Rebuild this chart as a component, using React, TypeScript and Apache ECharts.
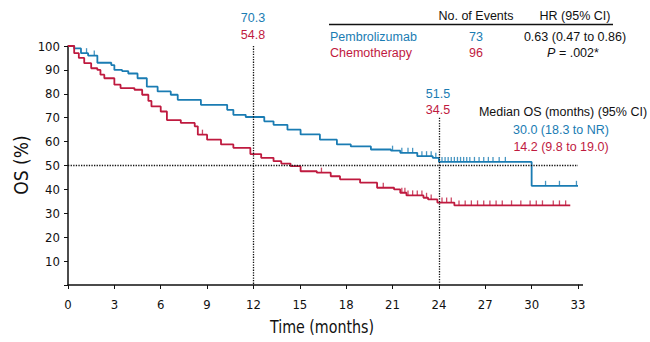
import React, { useEffect, useRef } from "react";
import * as echarts from "echarts";

// Kaplan-Meier step points (time in months, OS %)
const pembroTimes = [0, 0.4, 0.84, 1.3, 1.9, 2.8, 3.0, 3.5, 3.9, 4.5, 5.1, 5.8, 6.65, 7.1, 8.6, 10.3, 10.7, 11.5, 12.7, 13.3, 14.2, 15.05, 16.3, 17.4, 18.3, 19.6, 20.9, 21.5, 22.6, 23.6, 24.0, 30.0, 33.0];
const pembroSurv = [100, 99, 97, 96, 93, 92, 90, 89.5, 88.5, 86.5, 83, 81, 79.6, 77.5, 75.4, 73.3, 71.2, 70.3, 68.5, 67, 65, 63, 60.8, 58.8, 58, 56.7, 56.2, 55.3, 53.9, 53.2, 51.5, 41.5, 41.5];
const chemoTimes = [0, 0.4, 0.7, 1.05, 1.5, 1.9, 2.1, 2.35, 3.0, 3.4, 4.3, 4.8, 5.2, 5.4, 6.0, 6.4, 7.3, 8.2, 8.4, 9.0, 9.9, 10.7, 11.8, 12.5, 13.3, 13.8, 14.4, 15.05, 16.1, 17.0, 17.6, 18.9, 20.0, 21.1, 21.5, 21.9, 23.0, 23.3, 23.9, 25.0, 32.5];
const chemoSurv = [100, 97, 95, 92.8, 90.7, 90, 88, 86.5, 83.8, 82.4, 81.7, 79.6, 77, 74.7, 72.6, 69, 67.8, 66.4, 62.9, 60.8, 58.8, 57.4, 54.8, 53.2, 51.8, 50.8, 49.7, 47.6, 47, 45.5, 44.2, 42.8, 40.7, 40, 38.6, 37.5, 36.5, 35.8, 34.5, 33.3, 33.3];
const pembroCensor = [1.2, 1.7, 21.0, 21.6, 22.0, 22.3, 22.9, 23.2, 23.5, 23.8, 24.2, 24.4, 24.6, 24.8, 25.0, 25.2, 25.4, 25.6, 25.8, 26.0, 26.3, 26.6, 26.9, 27.2, 27.5, 27.9, 28.3, 30.9, 31.8, 32.9];
const chemoCensor = [8.7, 16.4, 20.4, 21.6, 21.8, 22.0, 22.3, 22.6, 22.9, 23.2, 23.5, 24.2, 24.5, 24.8, 25.3, 25.7, 26.1, 26.5, 26.9, 27.3, 27.7, 28.1, 28.7, 29.3, 29.9, 30.3, 30.7, 31.4, 31.8, 32.2];
const landmarkTimes = [12, 24];

const BLUE = "#1a7cb3";
const RED = "#bf1a3f";
const INK = "#111111";
const FONT = '"Liberation Sans", Arial, sans-serif';
const AXFONT = '"Liberation Sans Narrow", "DejaVu Sans Condensed", "Liberation Sans", sans-serif';

function stepAt(times: number[], surv: number[], t: number) {
  let v = surv[0];
  for (let i = 0; i < times.length; i++) if (times[i] <= t) v = surv[i];
  return v;
}

export default function App() {
  const ref = useRef<HTMLDivElement>(null);
  useEffect(() => {
    if (!ref.current) return;
    const chart = echarts.init(ref.current, null, { renderer: "svg" });
    const txt = (text: string, x: number, y: number, fill: string, align = "center", extra: any = {}) => ({
      type: "text",
      x,
      y,
      style: { text, fill, font: `12.5px ${FONT}`, align, verticalAlign: "middle", ...extra },
    });
    chart.setOption({
      animation: false,
      backgroundColor: "#ffffff",
      grid: { left: 68, right: 72, top: 46, bottom: 57, containLabel: false },
      xAxis: {
        type: "value",
        min: 0,
        max: 33,
        interval: 3,
        axisLine: { lineStyle: { color: INK, width: 1.5 } },
        axisTick: { length: 4, lineStyle: { color: INK } },
        axisLabel: { color: INK, fontSize: 13, fontFamily: AXFONT, margin: 13 },
        splitLine: { show: false },
      },
      yAxis: {
        type: "value",
        min: 0,
        max: 100,
        interval: 10,
        axisLine: { show: true, lineStyle: { color: INK, width: 1.5 } },
        axisTick: { show: true, length: 4, lineStyle: { color: INK } },
        axisLabel: {
          color: INK,
          fontSize: 13,
          fontFamily: AXFONT,
          margin: 8,
          formatter: (v: number) => (v === 0 ? "" : String(v)),
        },
        splitLine: { show: false },
      },
      series: [
        {
          name: "Pembrolizumab",
          type: "line",
          step: "end",
          symbol: "none",
          lineStyle: { color: BLUE, width: 1.8 },
          data: pembroTimes.map((t, i) => [t, pembroSurv[i]]),
          z: 3,
          markLine: {
            silent: true,
            symbol: ["none", "none"],
            label: { show: false },
            lineStyle: { color: INK, type: "dotted", width: 1.3 },
            data: [
              [{ coord: [0, 50] }, { coord: [33, 50] }],
              [{ coord: [landmarkTimes[0], 100] }, { coord: [landmarkTimes[0], 0] }],
              [{ coord: [landmarkTimes[1], 70] }, { coord: [landmarkTimes[1], 0] }],
            ],
          },
        },
        {
          name: "Chemotherapy",
          type: "line",
          step: "end",
          symbol: "none",
          lineStyle: { color: RED, width: 1.8 },
          data: chemoTimes.map((t, i) => [t, chemoSurv[i]]),
          z: 3,
        },
        {
          type: "scatter",
          symbol: "rect",
          symbolSize: [1.3, 5],
          symbolOffset: [0, -2.5],
          itemStyle: { color: BLUE },
          data: pembroCensor.map((t) => [t, stepAt(pembroTimes, pembroSurv, t)]),
          z: 4,
        },
        {
          type: "scatter",
          symbol: "rect",
          symbolSize: [1.3, 5],
          symbolOffset: [0, -2.5],
          itemStyle: { color: RED },
          data: chemoCensor.map((t) => [t, stepAt(chemoTimes, chemoSurv, t)]),
          z: 4,
        },
      ],
      graphic: [
        // axis extension past 33 and axis titles
        { type: "line", shape: { x1: 578, y1: 285, x2: 583, y2: 285 }, style: { stroke: INK, lineWidth: 1.5 } },
        {
          type: "text",
          x: 322,
          y: 327,
          scaleX: 0.88,
          style: { text: "Time (months)", fill: INK, font: `18px ${AXFONT}`, align: "center", verticalAlign: "middle" },
        },
        {
          type: "text",
          x: 21,
          y: 165,
          rotation: Math.PI / 2,
          style: { text: "OS (%)", fill: INK, font: `19px ${AXFONT}`, align: "center", verticalAlign: "middle" },
        },
        txt("70.3", 253, 18, BLUE),
        txt("54.8", 253, 35, RED),
        txt("51.5", 438, 94, BLUE),
        txt("34.5", 438, 110, RED),
        txt("No. of Events", 476, 16, INK),
        txt("HR (95% CI)", 575, 16, INK),
        { type: "line", shape: { x1: 329, y1: 24.5, x2: 613, y2: 24.5 }, style: { stroke: INK, lineWidth: 1.3 } },
        txt("Pembrolizumab", 330, 37, BLUE, "left"),
        txt("73", 476, 37, BLUE),
        txt("0.63 (0.47 to 0.86)", 575, 37, INK),
        txt("Chemotherapy", 330, 53, RED, "left"),
        txt("96", 476, 53, RED),
        {
          type: "text",
          x: 573,
          y: 53,
          style: {
            text: "{i|P} = .002*",
            fill: INK,
            font: `12.5px ${FONT}`,
            align: "center",
            verticalAlign: "middle",
            rich: { i: { fontStyle: "italic", fontSize: 12.5, fontFamily: FONT, fill: INK } },
          },
        },
        txt("Median OS (months) (95% CI)", 563, 112, INK),
        txt("30.0 (18.3 to NR)", 561, 130, BLUE),
        txt("14.2 (9.8 to 19.0)", 561, 147, RED),
      ],
    });
    return () => chart.dispose();
  }, []);
  return <div ref={ref} style={{ position: "fixed", left: 0, top: 0, width: 650, height: 342, background: "#fff" }} />;
}
